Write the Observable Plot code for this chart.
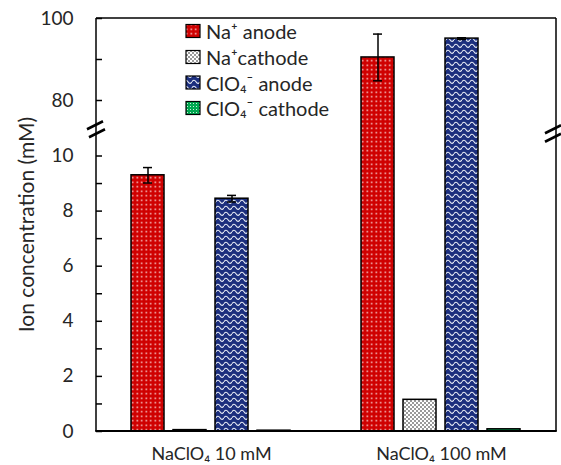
<!DOCTYPE html>
<html><head><meta charset="utf-8">
<script src="https://cdn.jsdelivr.net/npm/d3@7"></script>
<script src="https://cdn.jsdelivr.net/npm/@observablehq/plot@0.6"></script>
<style>body{margin:0;background:#fff}#chart{width:561px;height:465px}</style>
</head><body><div id="chart"></div>
<script>
const groups = ["NaClO₄ 10 mM", "NaClO₄ 100 mM"];
const series = ["Na⁺ anode", "Na⁺cathode", "ClO₄⁻ anode", "ClO₄⁻ cathode"];
const values10 = [9.3, 0.05, 8.45, 0.03];
const values100 = [90.5, 1.15, 95.1, 0.08];
const errors10 = [0.28, 0, 0.12, 0];
const errors100 = [5.7, 0, 0.2, 0];
const yTickLabels = [0, 2, 4, 6, 8, 10, 80, 100];
const yTickMarks = [0, 1, 2, 3, 4, 5, 6, 7, 8, 9, 10, 80, 90, 100];
const yTitle = "Ion concentration (mM)";
// broken axis: lower segment 0–10, upper segment 80–100
const lowerMax = 10, upperMin = 80, upperMax = 100;

const FONT = "Lato, 'DejaVu Sans', sans-serif";
const PX_LOW = 27.55, PX_UP = 4.1, PX_GAP = 55.5;
const gapU = PX_GAP / PX_LOW;
function brk(v) {
  if (v <= lowerMax) return v;
  if (v >= upperMin) return lowerMax + gapU + (v - upperMin) * PX_UP / PX_LOW;
  return lowerMax + (v - lowerMax) / (upperMin - lowerMax) * gapU;
}

const data = [];
groups.forEach((g, gi) => series.forEach((s, si) => {
  data.push({group: g, series: s,
    value: gi === 0 ? values10[si] : values100[si],
    err: gi === 0 ? errors10[si] : errors100[si]});
}));
const errData = data.filter(d => d.err > 0);
const patIds = series.map((s, i) => "pat" + i);

const chart = Plot.plot({
  width: 561, height: 465,
  marginLeft: 96, marginRight: 5, marginTop: 18, marginBottom: 34,
  style: {fontFamily: FONT, background: "white"},
  fx: {domain: groups, padding: 0, label: null, axis: null},
  x: {domain: series, paddingInner: 0.214, paddingOuter: 0.845, axis: null},
  y: {type: "linear", transform: brk, domain: [0, brk(upperMax)], axis: null},
  color: {domain: series, range: patIds.map(id => `url(#${id})`)},
  marks: [
    Plot.barY(data, {fx: "group", x: "series", y: "value", fill: "series", stroke: "black", strokeWidth: 1.5}),
    Plot.ruleX(errData, {fx: "group", x: "series", y1: d => d.value - d.err, y2: d => d.value + d.err, stroke: "black", strokeWidth: 1.5}),
    Plot.tickY(errData, {fx: "group", x: "series", y: d => d.value + d.err, insetLeft: 12, insetRight: 12, stroke: "black", strokeWidth: 1.5}),
    Plot.tickY(errData, {fx: "group", x: "series", y: d => d.value - d.err, insetLeft: 12, insetRight: 12, stroke: "black", strokeWidth: 1.5}),
    Plot.axisY(yTickMarks, {tickSize: 6, dx: 6, tickFormat: () => "", label: null, strokeWidth: 1.5}),
    Plot.axisY(yTickLabels, {tickSize: 0, tickPadding: 23, fontSize: 19, label: null, color: "#262626"}),
    Plot.axisFx({anchor: "bottom", tickSize: 0, tickPadding: 16, fontSize: 18, label: null, color: "#262626"})
  ]
});

const svg = d3.select(chart);
const defs = svg.insert("defs", ":first-child");
let p = defs.append("pattern").attr("id", "pat0").attr("patternUnits", "userSpaceOnUse").attr("width", 4.5).attr("height", 4.5);
p.append("rect").attr("width", 4.5).attr("height", 4.5).attr("fill", "#cf0000");
p.append("rect").attr("x", 1.5).attr("y", 1.5).attr("width", 1.5).attr("height", 1.5).attr("fill", "#ffffff").attr("opacity", 0.85);
p = defs.append("pattern").attr("id", "pat1").attr("patternUnits", "userSpaceOnUse").attr("width", 4).attr("height", 4);
p.append("rect").attr("width", 4).attr("height", 4).attr("fill", "#ffffff");
p.append("rect").attr("width", 2).attr("height", 2).attr("fill", "#9a9a9a");
p.append("rect").attr("x", 2).attr("y", 2).attr("width", 2).attr("height", 2).attr("fill", "#9a9a9a");
p = defs.append("pattern").attr("id", "pat2").attr("patternUnits", "userSpaceOnUse").attr("width", 8).attr("height", 6);
p.append("rect").attr("width", 8).attr("height", 6).attr("fill", "#1c2f7e");
p.append("path").attr("d", "M0,3.8 Q2,0.6 4,3.8 T8,3.8").attr("fill", "none").attr("stroke", "#e8ecf5").attr("stroke-width", 1.1);
p = defs.append("pattern").attr("id", "pat3").attr("patternUnits", "userSpaceOnUse").attr("width", 3).attr("height", 3);
p.append("rect").attr("width", 3).attr("height", 3).attr("fill", "#00a850");
p.append("rect").attr("x", 1).attr("y", 1).attr("width", 1).attr("height", 1).attr("fill", "#ffffff").attr("opacity", 0.8);

const ys = chart.scale("y");
const Y = v => ys.apply(brk(v));
const x0 = 96, x1 = 556;
const yTop = Y(upperMax), yBot = Y(0);
const yBreak = (Y(lowerMax) + Y(upperMin)) / 2;
const g = svg.append("g").attr("stroke", "black").attr("fill", "none");
g.append("line").attr("x1", x0).attr("x2", x0).attr("y1", yTop).attr("y2", yBot).attr("stroke-width", 1.5);
g.append("line").attr("x1", x1).attr("x2", x1).attr("y1", yTop).attr("y2", yBot).attr("stroke-width", 1.5);
g.append("line").attr("x1", x0).attr("x2", x1).attr("y1", yTop).attr("y2", yTop).attr("stroke-width", 1.5);
g.append("line").attr("x1", x0 - 0.75).attr("x2", x1 + 0.75).attr("y1", yBot).attr("y2", yBot).attr("stroke-width", 1.8);
[[x0 - 1, yBreak - 2.5], [x0 + 1, yBreak + 5.5], [x1 - 3, yBreak + 1.5], [x1 - 3, yBreak + 10]].forEach(([cx, cy]) => {
  g.append("line").attr("x1", cx - 8).attr("y1", cy + 4).attr("x2", cx + 8).attr("y2", cy - 4).attr("stroke-width", 2.6);
});
svg.append("text").attr("transform", `translate(25,${(Y(100) + Y(0)) / 2}) rotate(-90)`)
  .attr("text-anchor", "middle").attr("dominant-baseline", "central")
  .attr("font-size", 21).attr("fill", "#262626").attr("font-family", FONT).text(yTitle);
const legendY = [31, 57, 82.5, 108];
series.forEach((s, i) => {
  svg.append("rect").attr("x", 186).attr("y", legendY[i] - 6.5).attr("width", 14).attr("height", 13)
    .attr("fill", `url(#${patIds[i]})`).attr("stroke", "black").attr("stroke-width", 1.2);
  svg.append("text").attr("x", 206).attr("y", legendY[i]).attr("text-anchor", "start").attr("dominant-baseline", "central")
    .attr("font-size", 20).attr("fill", "#262626").attr("font-family", FONT).text(s);
});
document.getElementById("chart").appendChild(chart);
</script></body></html>
